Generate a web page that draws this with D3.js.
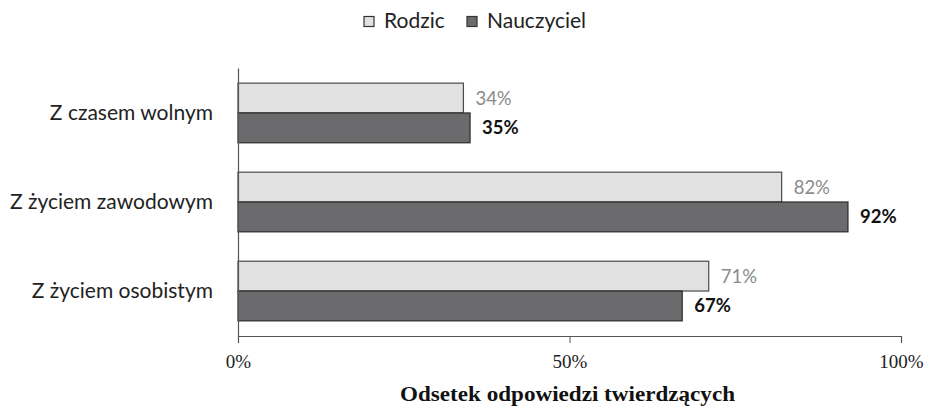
<!DOCTYPE html>
<html><head><meta charset="utf-8">
<script src="https://cdn.jsdelivr.net/npm/d3@7"></script>
<style>body{margin:0;background:#fff}</style>
</head><body>
<svg id="c" width="929" height="407"></svg>
<script>
const categories = ["Z czasem wolnym", "Z życiem zawodowym", "Z życiem osobistym"];
const seriesNames = ["Rodzic", "Nauczyciel"];
const rodzic = [34, 82, 71];
const nauczyciel = [35, 92, 67];
const xTicks = [0, 50, 100];
const xTitle = "Odsetek odpowiedzi twierdzących";

(function () {
const svg = d3.select("#c");
const mLeft = 238, mRight = 901, mTop = 68, mBottom = 336;
const x = d3.scaleLinear().domain([0, 100]).range([mLeft, mRight]);
const y = d3.scaleBand().domain(categories).range([mTop, mBottom]).paddingInner(0.33).paddingOuter(0.17);
const sub = d3.scaleBand().domain(seriesNames).range([0, y.bandwidth()]);
const fills = {Rodzic: "#e1e1e1", Nauczyciel: "#6b6b6d"};
const strokes = {Rodzic: "#4a4a4a", Nauczyciel: "#2a2a2a"};
const labelColor = {Rodzic: "#8a8a8a", Nauczyciel: "#111"};
const labelWeight = {Rodzic: "normal", Nauczyciel: "bold"};

const rows = [];
categories.forEach((c, i) => {
  rows.push({cat: c, s: "Rodzic", v: rodzic[i]});
  rows.push({cat: c, s: "Nauczyciel", v: nauczyciel[i]});
});

svg.selectAll("rect.bar").data(rows).join("rect")
  .attr("x", x(0)).attr("y", d => y(d.cat) + sub(d.s))
  .attr("width", d => x(d.v) - x(0)).attr("height", sub.bandwidth())
  .attr("fill", d => fills[d.s]).attr("stroke", d => strokes[d.s]).attr("stroke-width", 1.2);

svg.selectAll("text.val").data(rows).join("text")
  .attr("x", d => x(d.v) + 12).attr("y", d => y(d.cat) + sub(d.s) + sub.bandwidth() / 2)
  .attr("dy", "0.35em").attr("font-family", "Lato, sans-serif").attr("font-size", 18.5)
  .attr("fill", d => labelColor[d.s]).attr("font-weight", d => labelWeight[d.s])
  .text(d => d.v + "%");

const ya = svg.append("g").attr("transform", `translate(${mLeft},0)`)
  .call(d3.axisLeft(y).tickSize(0).tickPadding(25));
ya.select(".domain").attr("stroke", "#555").attr("stroke-width", 1.2);
ya.selectAll("text").attr("font-family", "Lato, sans-serif").attr("font-size", 21).attr("fill", "#222");

const xa = svg.append("g").attr("transform", `translate(0,${mBottom})`)
  .call(d3.axisBottom(x).tickValues(xTicks).tickFormat(d => d + "%").tickSizeInner(7).tickSizeOuter(7).tickPadding(12));
xa.select(".domain").attr("stroke", "#555").attr("stroke-width", 1.2);
xa.selectAll("line").attr("stroke", "#555");
xa.selectAll("text").attr("font-family", "'Liberation Serif', serif").attr("font-size", 19).attr("fill", "#222");

svg.append("text").attr("x", 567.5).attr("y", 401).attr("text-anchor", "middle")
  .attr("font-family", "'Liberation Serif', serif").attr("font-weight", "bold").attr("font-size", 22)
  .attr("textLength", 335).attr("lengthAdjust", "spacingAndGlyphs")
  .attr("fill", "#111").text(xTitle);

const lg = svg.append("g");
const legX = [364, 467];
seriesNames.forEach((s, i) => {
  lg.append("rect").attr("x", legX[i]).attr("y", 16.5).attr("width", 10).attr("height", 10)
    .attr("fill", fills[s]).attr("stroke", "#333").attr("stroke-width", 1.2);
  lg.append("text").attr("x", legX[i] + 20).attr("y", 27.5).attr("font-family", "Lato, sans-serif")
    .attr("font-size", 21).attr("fill", "#222").text(s);
});
})();
</script>
</body></html>
